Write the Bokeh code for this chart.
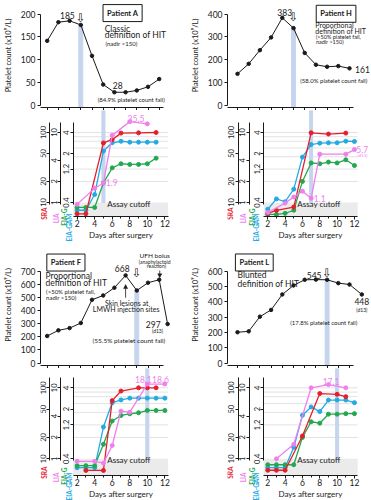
import math
from bokeh.plotting import figure
from bokeh.models import (Range1d, LogScale, LinearAxis, FixedTicker, CustomJSTickFormatter,
                          Label, Arrow, NormalHead, BoxAnnotation, CustomLabelingPolicy)
from bokeh.layouts import gridplot
from bokeh.embed import file_html
from bokeh.resources import INLINE

FONT = "Lato"
INK = "#1a1a1a"
RED = "#e41f2d"
PINK = "#f07fee"
GREEN = "#22a84f"
BLUE = "#22aae2"
BAND = "#c6d4ee"
CUT_FILL = "#ebebeb"
GRID_COLOR = "#e2e2e2"

# ---------------- data ----------------
DAYS = [2, 3, 4, 5, 6, 7, 8, 9, 10, 11, 12]

A_PLT_DAYS = DAYS
A_PLT = [141, 182, 185, 176, 108, 45, 28, 28, 32, 40, 57]
H_PLT_DAYS = DAYS
H_PLT = [137, 181, 241, 297, 383, 338, 229, 177, 168, 171, 161]
F_PLT_DAYS = [2, 3, 4, 5, 6, 7, 8, 9, 10, 11, 12, 12.75]
F_PLT = [206, 249, 266, 305, 482, 515, 574, 668, 553, 612, 635, 297]
L_PLT_DAYS = [2, 3, 4, 5, 6, 7, 8, 9, 10, 11, 12, 13.1]
L_PLT = [201, 207, 303, 347, 448, 507, 544, 545, 544, 522, 513, 448]

A_YTICKS = [0, 50, 100, 150, 200]
H_YTICKS = [0, 100, 200, 300, 400]
F_YTICKS = [0, 100, 200, 300, 400, 500, 600, 700]
L_YTICKS = [0, 100, 200, 300, 400, 500, 600]

BAND_DAY = {"A": 5, "H": 7, "F": 10, "L": 10}

# SRA (% release), LIA (U/mL), EIA-G / EIA-GAM (OD)
A_SRA_DAYS = [2, 3, 5, 6, 7, 9, 11]
A_SRA = [6.9, 6.9, 71, 79, 98, 99, 100]
A_LIA_DAYS = [2, 4, 5, 6, 8, 10]
A_LIA = [0.94, 1.6, 1.9, 9.1, 14.3, 13.3]
A_EIAG_DAYS = [2, 3, 4, 5, 6, 7, 8, 9, 10, 11]
A_EIAG = [0.34, 0.34, 0.34, 0.76, 1.25, 1.43, 1.40, 1.40, 1.43, 1.72]
A_GAM_DAYS = [2, 3, 4, 5, 6, 7, 8, 9, 10, 11]
A_GAM = [0.31, 0.31, 0.52, 2.17, 2.85, 3.0, 2.91, 2.91, 2.91, 2.91]

H_SRA_DAYS = [2, 3, 5, 7, 9, 11]
H_SRA = [7.0, 7.7, 8.6, 99, 95, 98]
H_LIA_DAYS = [2, 4, 5, 6, 7, 8, 11, 12]
H_LIA = [0.72, 0.98, 1.2, 1.45, 1.15, 4.9, 4.9, 5.7]
H_EIAG_DAYS = DAYS
H_EIAG = [0.27, 0.27, 0.28, 0.31, 0.80, 1.47, 1.43, 1.51, 1.47, 1.63, 1.35]
H_GAM_DAYS = DAYS
H_GAM = [0.32, 0.45, 0.41, 0.62, 1.78, 2.69, 2.82, 2.85, 2.85, 3.01, 2.98]

F_SRA_DAYS = [3, 5, 6, 7, 9, 10, 11]
F_SRA = [6.85, 6.85, 66, 90, 100, 100, 100]
F_LIA_DAYS = [2, 4, 5, 6, 7, 8, 10, 12]
F_LIA = [0.92, 0.92, 0.87, 1.54, 4.69, 4.53, 11.3, 11.3]
F_EIAG_DAYS = DAYS
F_EIAG = [0.32, 0.32, 0.32, 0.64, 1.36, 1.63, 1.72, 1.78, 1.92, 1.92, 1.92]
F_GAM_DAYS = DAYS
F_GAM = [0.30, 0.30, 0.30, 1.12, 2.46, 2.70, 2.86, 2.86, 2.86, 2.86, 2.86]

L_SRA_DAYS = [2, 3, 4, 6, 8, 10, 11]
L_SRA = [6.9, 6.9, 6.9, 21, 83, 81, 75]
L_LIA_DAYS = [3, 5, 7, 9, 11]
L_LIA = [1.0, 1.6, 10.0, 11.1, 10.0]
L_EIAG_DAYS = DAYS
L_EIAG = [0.33, 0.33, 0.33, 0.33, 0.80, 1.33, 1.27, 1.70, 1.70, 1.73, 1.73]
L_GAM_DAYS = DAYS
L_GAM = [0.30, 0.30, 0.30, 0.58, 1.64, 2.15, 1.85, 2.69, 2.69, 2.69, 2.47]

SRA_TICKS = [10, 20, 50, 100]
LIA_TICKS = [1, 2, 4, 10]
EIA_TICKS = [0.4, 1.2, 2, 4]
GRID_SRA = [20, 30, 45, 60, 75, 87, 100]
X_TICKS = [2, 4, 6, 8, 10, 12]
X_MINOR = [3, 5, 7, 9, 11]
ASSAY_NAMES = ["SRA", "LIA", "EIA-G", "EIA-GAM"]
ASSAY_COLORS = [RED, PINK, GREEN, BLUE]

# ---------------- layout constants (pixels) ----------------
COL_W = [185, 186]
DAY2_PX = [46.7, 52.0]
TOP_LEFT = [40, 42]
PX_PER_DAY = 11.2
X_AXIS_END = 12.37
TOP_H = [110, 127]
BOT_H = [131, 132]
TOP_T = 3
TOP_PIX = [(107, 104.5, 13.5), (124, 121.5, 29.7)]      # frame bottom, pixel of 0, pixel of max
BOT_PIX = [(106, 92.0, 22.0), (107, 90.3, 19.3)]        # x-axis, pixel of cutoff(10), pixel of 100
AXIS_PX = [[41.7, 26.0, 11.7], [46.7, 28.3, 14.0]]      # EIA, LIA, SRA axis lines in each column
NAME_PX = [[4.5, 20.5, 30.5, 36.5], [4.5, 21.0, 32.0, 37.5]]
NAME_UP = [9, 3, 8, 3]                                  # name top, px above the x axis
FMT = CustomJSTickFormatter(code="return tick.toString()")


def lab(p, x, y, text, size="8.5px", color=INK, align="center", baseline="middle",
        bold=False, font=FONT, rng="default", **kw):
    p.add_layout(Label(x=x, y=y, text=text, text_font=font, text_font_size=size,
                       text_color=color, text_align=align, text_baseline=baseline,
                       text_font_style="bold" if bold else "normal",
                       y_range_name=rng, **kw))


def box_lab(p, x, y, text):
    lab(p, x, y, text, size="7.5px", bold=True, border_line_color=INK,
        border_line_width=1, background_fill_color="white", padding=4)


def arrow_lab(p, x, y):
    lab(p, x, y, "\u21e9", size="12px", font="DejaVu Sans")


def top_fig(col, row, days, plt, yticks, band_day):
    vmax = yticks[-1]
    B, p0, pmax = TOP_PIX[row]
    s = (p0 - pmax) / vmax
    y0, y1 = -(B - p0) / s, vmax + (pmax - TOP_T) / s
    x0 = 2 - (DAY2_PX[col] - TOP_LEFT[col]) / PX_PER_DAY
    x1 = x0 + (COL_W[col] - TOP_LEFT[col]) / PX_PER_DAY
    p = figure(width=COL_W[col], height=TOP_H[row], x_range=Range1d(x0, x1),
               y_range=Range1d(y0, y1), output_backend="svg", toolbar_location=None,
               min_border_left=TOP_LEFT[col], min_border_right=0,
               min_border_top=TOP_T, min_border_bottom=0)
    p.grid.visible = False
    p.outline_line_color = None
    xa = p.xaxis[0]
    xa.ticker = FixedTicker(ticks=DAYS)
    xa.major_label_text_font_size = "0px"
    xa.major_label_policy = CustomLabelingPolicy(code="for (const i of indices) indices.unset(i)")
    xa.major_label_standoff = 0
    xa.major_tick_out = 3
    xa.major_tick_in = 0
    xa.minor_tick_out = 0
    xa.bounds = (x0, X_AXIS_END)
    xa.axis_line_color = INK
    xa.major_tick_line_color = INK
    ya = p.yaxis[0]
    ya.ticker = FixedTicker(ticks=yticks)
    ya.bounds = (0, vmax)
    ya.major_tick_out = 3
    ya.major_tick_in = 0
    ya.minor_tick_out = 0
    ya.major_label_standoff = 2
    ya.major_label_text_font = FONT
    ya.major_label_text_font_size = "8.5px"
    ya.major_label_text_color = INK
    ya.axis_label = "Platelet count (x10\u2079/L)"
    ya.axis_label_text_font = FONT
    ya.axis_label_text_font_size = "7.5px"
    ya.axis_label_text_font_style = "normal"
    ya.axis_label_text_color = INK
    ya.axis_label_standoff = 5
    ya.axis_line_color = INK
    ya.major_tick_line_color = INK
    band_top = plt[days.index(band_day)]
    p.vbar(x=[band_day], width=0.35, bottom=y0, top=band_top, color=BAND)
    p.line(days, plt, color=INK, line_width=1)
    p.scatter(days, plt, size=3.5, color=INK)
    return p


def bottom_fig(col, row, sra_d, sra, lia_d, lia, g_d, g, gam_d, gam, band_day):
    H = BOT_H[row]
    B, pc, p100 = BOT_PIX[row]
    dec = pc - p100

    def sra_at(py):                      # SRA value shown at a pixel row of this figure
        return 10 * 10 ** ((pc - py) / dec)

    y0, y1 = sra_at(H), sra_at(0)
    x0 = 2 - DAY2_PX[col] / PX_PER_DAY
    x1 = x0 + COL_W[col] / PX_PER_DAY

    def day_at(px):
        return x0 + px / PX_PER_DAY

    y_axis_pos = sra_at(B)
    x_eia = day_at(AXIS_PX[col][0])
    p = figure(width=COL_W[col], height=H, x_range=Range1d(x0, x1),
               y_range=Range1d(y0, y1), y_axis_type="log", y_axis_location=None,
               output_backend="svg", toolbar_location=None,
               min_border_left=0, min_border_right=0, min_border_top=0, min_border_bottom=0)
    p.extra_y_ranges = {"lia": Range1d(y0 / 10, y1 / 10), "eia": Range1d(y0 / 25, y1 / 25)}
    p.extra_y_scales = {"lia": LogScale(), "eia": LogScale()}
    p.outline_line_color = None
    p.grid.visible = False

    xa = p.xaxis[0]
    xa.fixed_location = y_axis_pos
    xa.bounds = (x_eia, X_AXIS_END)
    xa.ticker = FixedTicker(ticks=X_TICKS, minor_ticks=X_MINOR)
    xa.major_tick_out = 3
    xa.major_tick_in = 0
    xa.minor_tick_out = 2
    xa.minor_tick_in = 0
    xa.major_label_standoff = 0
    xa.major_label_text_font = FONT
    xa.major_label_text_font_size = "8.5px"
    xa.major_label_text_color = INK
    xa.axis_label = "Days after surgery"
    xa.axis_label_text_font = FONT
    xa.axis_label_text_font_size = "8px"
    xa.axis_label_text_font_style = "normal"
    xa.axis_label_text_color = INK
    xa.axis_label_standoff = 0
    xa.axis_line_color = INK
    xa.major_tick_line_color = INK
    xa.minor_tick_line_color = INK

    for rng, ticks, bounds, px in [("eia", EIA_TICKS, (0.376, 5.56), AXIS_PX[col][0]),
                                   ("lia", LIA_TICKS, (0.94, 13.9), AXIS_PX[col][1]),
                                   ("default", SRA_TICKS, (9.4, 139), AXIS_PX[col][2])]:
        ax = LinearAxis(y_range_name=rng, ticker=FixedTicker(ticks=ticks), formatter=FMT,
                        fixed_location=day_at(px),
                        bounds=bounds, major_label_orientation="vertical",
                        major_tick_out=3, major_tick_in=0, minor_tick_out=0,
                        major_label_standoff=1, major_label_text_font=FONT,
                        major_label_text_font_size="7.5px", major_label_text_color=INK,
                        axis_line_color=INK, major_tick_line_color=INK)
        p.add_layout(ax, "left")

    p.add_layout(BoxAnnotation(left=x_eia, right=X_AXIS_END, bottom=y_axis_pos, top=10,
                               fill_color=CUT_FILL, fill_alpha=1, line_color=None,
                               level="underlay"))
    n = len(GRID_SRA)
    p.segment(x0=[x_eia] * n, y0=GRID_SRA, x1=[X_AXIS_END] * n, y1=GRID_SRA,
              line_color=GRID_COLOR, line_width=1)
    p.vbar(x=[band_day], width=0.35, bottom=10, top=y1 * 2, color=BAND)

    for d, v, c, r in [(gam_d, gam, BLUE, "eia"), (g_d, g, GREEN, "eia"),
                       (sra_d, sra, RED, "default"), (lia_d, lia, PINK, "lia")]:
        p.line(d, v, color=c, line_width=1.3, y_range_name=r)
        p.scatter(d, v, size=4, color=c, y_range_name=r)

    lab(p, 7.9, 9.6, "Assay cutoff", size="8px")
    # assay names, written below the three stacked axes
    for name, c, px, up in zip(ASSAY_NAMES, ASSAY_COLORS, NAME_PX[col], NAME_UP):
        p.add_layout(Label(x=day_at(px), y=sra_at(B - up), text=name, angle=math.pi / 2,
                           text_align="right", text_baseline="middle", text_color=c,
                           text_font=FONT, text_font_size="6.5px", text_font_style="bold"))
    return p


# ---------- Patient A ----------
a_top = top_fig(0, 0, A_PLT_DAYS, A_PLT, A_YTICKS, BAND_DAY["A"])
box_lab(a_top, 8.73, 202, "Patient A")
lab(a_top, 7.13, 167, "Classic", align="left")
lab(a_top, 7.13, 154, "definition of HIT", align="left")
lab(a_top, 7.2, 136, "(nadir <150)", size="6px", align="left")
lab(a_top, 9.5, 13, "(84.9% platelet count fall)", size="6px")
lab(a_top, 3.8, 196, "185")
lab(a_top, 8.3, 42, "28")
arrow_lab(a_top, BAND_DAY["A"], 191)

a_bot = bottom_fig(0, 0, A_SRA_DAYS, A_SRA, A_LIA_DAYS, A_LIA, A_EIAG_DAYS, A_EIAG,
                   A_GAM_DAYS, A_GAM, BAND_DAY["A"])
lab(a_bot, 8.7, 15.8, "35.5", color=PINK, rng="lia")
lab(a_bot, 5.27, 1.95, "1.9", color=PINK, align="left", rng="lia")

# ---------- Patient H ----------
h_top = top_fig(1, 0, H_PLT_DAYS, H_PLT, H_YTICKS, BAND_DAY["H"])
box_lab(h_top, 10.8, 401, "Patient H")
lab(h_top, 8.95, 350, "Proportional", size="7px", align="left")
lab(h_top, 8.95, 325, "definition of HIT", size="7px", align="left")
lab(h_top, 9.0, 301, "(>50% platelet fall,", size="5.5px", align="left")
lab(h_top, 9.0, 279, "nadir >150)", size="5.5px", align="left")
lab(h_top, 10.6, 109, "(58.0% platelet count fall)", size="6px")
lab(h_top, 6.22, 408, "383")
arrow_lab(h_top, BAND_DAY["H"], 385)
lab(h_top, 12.5, 157, "161", align="left")

h_bot = bottom_fig(1, 0, H_SRA_DAYS, H_SRA, H_LIA_DAYS, H_LIA, H_EIAG_DAYS, H_EIAG,
                   H_GAM_DAYS, H_GAM, BAND_DAY["H"])
lab(h_bot, 7.3, 1.15, "1.1", color=PINK, align="left", rng="lia")
lab(h_bot, 12.2, 5.8, "5.7", color=PINK, align="left", rng="lia")
lab(h_bot, 12.35, 4.7, "(d13)", size="4.5px", color=PINK, align="left", rng="lia")

# ---------- Patient F ----------
f_top = top_fig(0, 1, F_PLT_DAYS, F_PLT, F_YTICKS, BAND_DAY["F"])
box_lab(f_top, 3.67, 766, "Patient F")
lab(f_top, 1.85, 667, "Proportional", align="left")
lab(f_top, 1.85, 609, "definition of HIT", align="left")
lab(f_top, 1.9, 549, "(>50% platelet fall,", size="6px", align="left")
lab(f_top, 1.9, 500, "nadir >150)", size="6px", align="left")
lab(f_top, 8.7, 718, "668")
arrow_lab(f_top, BAND_DAY["F"], 686)
lab(f_top, 11.6, 818, "UFH bolus", size="6.5px")
lab(f_top, 11.6, 769, "(anaphylactoid", size="5px")
lab(f_top, 11.75, 739, "reaction)", size="5px")
f_top.add_layout(Arrow(end=NormalHead(size=4, fill_color=INK, line_color=INK, line_width=0.5),
                       x_start=12.05, y_start=705, x_end=12.05, y_end=650,
                       line_color=INK, line_width=0.8))
f_top.add_layout(Arrow(end=NormalHead(size=4, fill_color=INK, line_color=INK, line_width=0.5),
                       x_start=9, y_start=498, x_end=9, y_end=598,
                       line_color=INK, line_width=0.8))
lab(f_top, 9.1, 458, "Skin lesions at", size="7px")
lab(f_top, 9.05, 409, "LMWH injection sites", size="7px")
lab(f_top, 11.47, 294, "297")
lab(f_top, 11.85, 241, "(d13)", size="5px")
lab(f_top, 9.3, 173, "(55.5% platelet count fall)", size="6.5px")

f_bot = bottom_fig(0, 1, F_SRA_DAYS, F_SRA, F_LIA_DAYS, F_LIA, F_EIAG_DAYS, F_EIAG,
                   F_GAM_DAYS, F_GAM, BAND_DAY["F"])
lab(f_bot, 9.55, 13.2, "18.1", color=PINK, rng="lia")
lab(f_bot, 11.5, 13.2, "18.6", color=PINK, rng="lia")

# ---------- Patient L ----------
l_top = top_fig(1, 1, L_PLT_DAYS, L_PLT, L_YTICKS, BAND_DAY["L"])
box_lab(l_top, 3.5, 657, "Patient L")
lab(l_top, 2.0, 572, "Blunted", align="left")
lab(l_top, 2.0, 515, "definition of HIT", align="left")
lab(l_top, 8.84, 575, "545")
arrow_lab(l_top, BAND_DAY["L"], 585)
lab(l_top, 13.1, 403, "448")
lab(l_top, 13.1, 346, "(d13)", size="5px")
lab(l_top, 9.7, 264, "(17.8% platelet count fall)", size="6px")

l_bot = bottom_fig(1, 1, L_SRA_DAYS, L_SRA, L_LIA_DAYS, L_LIA, L_EIAG_DAYS, L_EIAG,
                   L_GAM_DAYS, L_GAM, BAND_DAY["L"])
lab(l_bot, 9.3, 12.4, "17.1", color=PINK, rng="lia")

grid = gridplot([[a_top, h_top], [a_bot, h_bot], [f_top, l_top], [f_bot, l_bot]],
                toolbar_location=None)

open("out.html", "w").write(file_html(grid, INLINE))
